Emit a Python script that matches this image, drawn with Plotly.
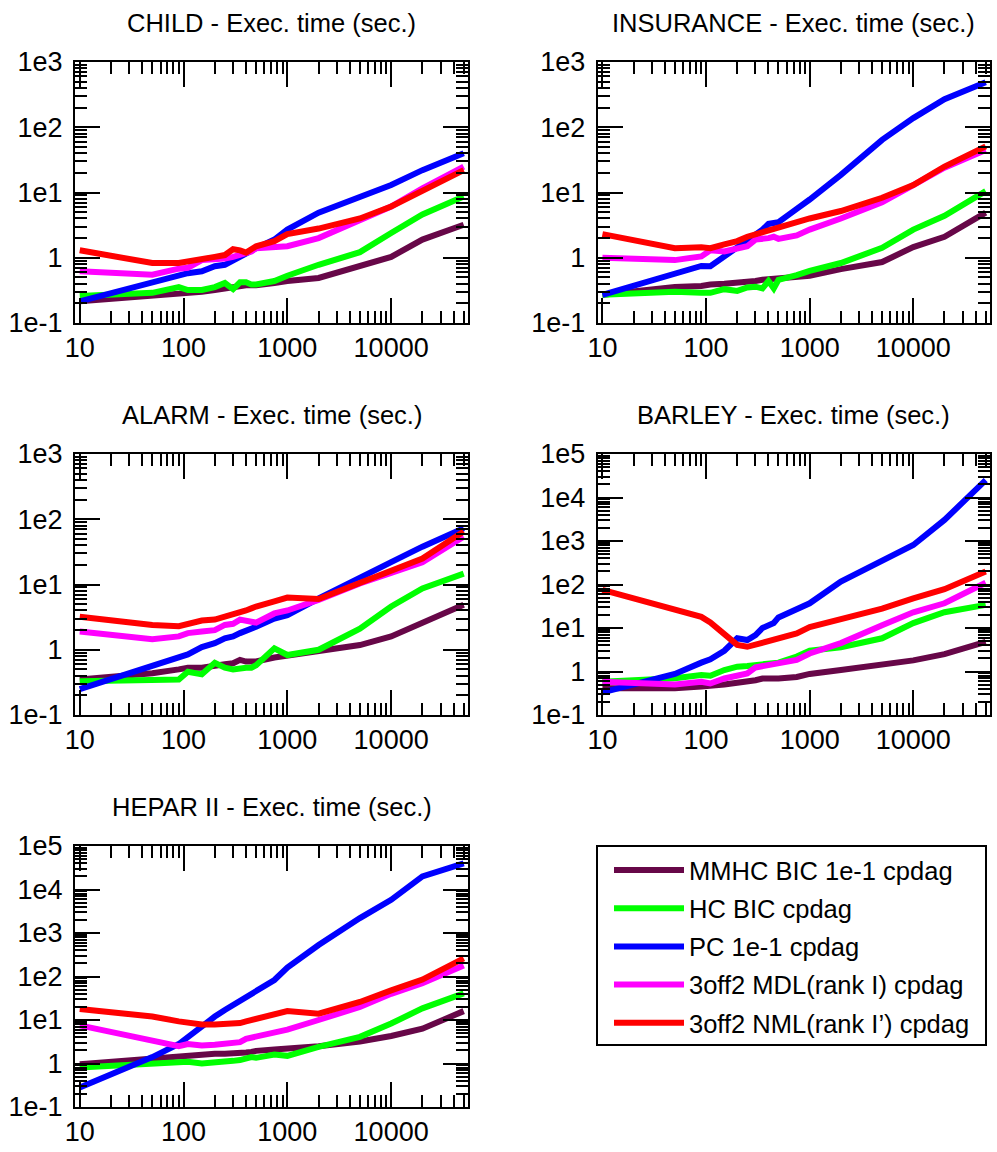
import math
import plotly.graph_objects as go

# Sample sizes (number of observations) shared by every benchmark
sample_sizes = [10, 50, 90, 110, 150, 200, 250, 300, 350, 400, 450, 500,
                750, 1000, 2000, 5000, 10000, 20000, 50000]

method_names = ["MMHC BIC 1e-1 cpdag", "HC BIC cpdag", "PC 1e-1 cpdag",
                "3off2 MDL(rank I) cpdag", "3off2 NML(rank I\u2019) cpdag"]
method_colors = ["#670748", "#00ff00", "#0000ff", "#ff00ff", "#ff0000"]

# Execution times in seconds
child_mmhc = [0.215, 0.257, 0.28, 0.29, 0.30, 0.32, 0.34, 0.36, 0.37, 0.38, 0.38, 0.38,
              0.41, 0.44, 0.49, 0.74, 1.03, 1.9, 3.2]
child_hc = [0.26, 0.29, 0.355, 0.32, 0.32, 0.355, 0.41, 0.33, 0.42, 0.42, 0.39, 0.39,
            0.44, 0.53, 0.78, 1.22, 2.4, 4.6, 8.7]
child_pc = [0.215, 0.41, 0.53, 0.58, 0.62, 0.74, 0.78, 0.92, 1.05, 1.2, 1.3, 1.4,
            1.9, 2.7, 4.9, 8.7, 13, 22, 40]
child_mdl = [0.62, 0.55, 0.68, 0.70, 0.92, 0.92, 0.97, 1.03, 1.1, 1.15, 1.25, 1.4,
             1.5, 1.5, 2.0, 3.8, 6.1, 11.6, 25]
child_nml = [1.3, 0.83, 0.83, 0.87, 0.92, 1.03, 1.1, 1.35, 1.3, 1.2, 1.35, 1.5,
             1.8, 2.3, 2.8, 4.0, 6.1, 10.5, 22]

insurance_mmhc = [0.27, 0.356, 0.37, 0.39, 0.40, 0.41, 0.42, 0.44, 0.46, 0.47, 0.47, 0.49,
                  0.53, 0.53, 0.67, 0.86, 1.46, 2.1, 4.9]
insurance_hc = [0.27, 0.30, 0.29, 0.29, 0.33, 0.31, 0.35, 0.36, 0.34, 0.44, 0.34, 0.46,
                0.54, 0.63, 0.83, 1.42, 2.7, 4.4, 10.5]
insurance_pc = [0.27, 0.57, 0.75, 0.74, 1.04, 1.4, 1.8, 2.3, 2.7, 3.3, 3.4, 3.5,
                5.6, 7.8, 18.6, 64, 138, 270, 490]
insurance_mdl = [1.0, 0.92, 1.05, 1.3, 1.25, 1.4, 1.5, 1.9, 1.9, 2.0, 2.1, 1.95,
                 2.2, 2.7, 4.0, 7.1, 13, 24, 45]
insurance_nml = [2.3, 1.4, 1.45, 1.4, 1.6, 1.8, 2.1, 2.3, 2.4, 2.6, 2.8, 2.95,
                 3.6, 4.0, 5.2, 8.3, 13, 25, 51]

alarm_mmhc = [0.35, 0.435, 0.50, 0.53, 0.53, 0.58, 0.60, 0.62, 0.70, 0.66, 0.66, 0.66,
              0.76, 0.81, 0.97, 1.18, 1.6, 2.6, 4.9]
alarm_hc = [0.33, 0.35, 0.35, 0.46, 0.42, 0.63, 0.53, 0.50, 0.53, 0.53, 0.53, 0.58,
            1.05, 0.83, 1.0, 2.1, 4.6, 8.7, 14.7]
alarm_pc = [0.25, 0.58, 0.79, 0.85, 1.1, 1.26, 1.5, 1.6, 1.8, 2.0, 2.1, 2.25,
            3.0, 3.4, 6.1, 13, 22, 38, 73]
alarm_mdl = [1.9, 1.45, 1.6, 1.8, 1.9, 2.0, 2.4, 2.5, 2.9, 2.8, 2.8, 2.6,
             3.6, 4.0, 5.8, 10.4, 15, 22, 54]
alarm_nml = [3.2, 2.4, 2.3, 2.5, 2.8, 2.9, 3.2, 3.4, 3.7, 4.0, 4.3, 4.6,
             5.5, 6.3, 6.0, 10.4, 15.7, 25, 65]

barley_mmhc = [0.41, 0.41, 0.45, 0.46, 0.50, 0.55, 0.58, 0.63, 0.69, 0.69, 0.69, 0.69,
               0.75, 0.88, 1.08, 1.41, 1.8, 2.5, 4.8]
barley_hc = [0.58, 0.70, 0.83, 0.80, 1.08, 1.29, 1.34, 1.41, 1.5, 1.5, 1.5, 1.6,
             2.2, 3.0, 3.6, 5.8, 13, 23, 34]
barley_pc = [0.33, 0.88, 1.6, 1.9, 3.0, 5.8, 5.3, 6.9, 10, 12, 13, 17.5,
             27, 37, 117, 366, 810, 3050, 25000]
barley_mdl = [0.58, 0.50, 0.58, 0.53, 0.69, 0.79, 0.9, 1.24, 1.34, 1.4, 1.5, 1.6,
              1.85, 2.6, 4.5, 11.6, 23, 37, 110]
barley_nml = [75, 26, 18, 13.5, 6.9, 4.1, 3.7, 4.2, 4.7, 5.0, 5.2, 5.8,
              7.5, 10.5, 16, 28, 48, 78, 200]

hepar_mmhc = [0.96, 1.29, 1.45, 1.5, 1.67, 1.67, 1.67, 1.67, 1.73, 1.8, 1.85, 1.95,
              2.1, 2.2, 2.5, 3.2, 4.3, 6.3, 16]
hepar_hc = [0.81, 1.0, 1.1, 1.1, 1.0, 1.03, 1.1, 1.15, 1.2, 1.29, 1.4, 1.35,
            1.6, 1.5, 2.4, 4.1, 8.3, 18.5, 41]
hepar_pc = [0.28, 1.4, 2.8, 4.1, 7.0, 12, 17, 22, 27, 33, 41, 46,
            83, 160, 530, 2200, 5800, 20000, 40000]
hepar_mdl = [7.5, 3.4, 2.5, 2.8, 2.6, 2.7, 2.8, 2.95, 3.1, 3.7, 3.9, 4.1,
             5.0, 6.0, 10, 20, 40, 70, 180]
hepar_nml = [18, 12, 9.3, 8.5, 7.9, 7.9, 8.1, 8.5, 8.5, 9.3, 10, 10.5,
             12.8, 16, 14, 26, 48, 85, 260]

x_tick_values = [10, 100, 1000, 10000]
x_tick_labels = ["10", "100", "1000", "10000"]
y_tick_labels = {-1: "1e-1", 0: "1", 1: "1e1", 2: "1e2", 3: "1e3", 4: "1e4", 5: "1e5"}

panels = [
    ("CHILD - Exec. time (sec.)", [child_mmhc, child_hc, child_pc, child_mdl, child_nml], 3),
    ("INSURANCE - Exec. time (sec.)", [insurance_mmhc, insurance_hc, insurance_pc, insurance_mdl, insurance_nml], 3),
    ("ALARM - Exec. time (sec.)", [alarm_mmhc, alarm_hc, alarm_pc, alarm_mdl, alarm_nml], 3),
    ("BARLEY - Exec. time (sec.)", [barley_mmhc, barley_hc, barley_pc, barley_mdl, barley_nml], 5),
    ("HEPAR II - Exec. time (sec.)", [hepar_mmhc, hepar_hc, hepar_pc, hepar_mdl, hepar_nml], 5),
]

W, H = 997, 1152
col_px = [(75, 468), (597.7, 990)]
row_px = [(62, 323), (454, 715), (846, 1107)]
legend_box_px = (597, 846, 986, 1045)

FONT = "Liberation Sans, Arial, Helvetica, sans-serif"


def minor_values(lo, hi):
    vals = []
    for k in range(lo, hi + 1):
        for d in range(2, 10):
            vals.append(d * 10.0 ** k)
    return vals


fig = go.Figure()
annotations = []
layout_axes = {}

for i, (title, series, ytop) in enumerate(panels):
    r, c = divmod(i, 2)
    x0, x1 = col_px[c]
    y0, y1 = row_px[r]
    xdom = [x0 / W, x1 / W]
    ydom = [1 - y1 / H, 1 - y0 / H]
    suffix = "" if i == 0 else str(i + 1)
    xa, ya = "x" + suffix, "y" + suffix

    for j, values in enumerate(series):
        fig.add_trace(go.Scatter(
            x=sample_sizes, y=values, mode="lines",
            name=method_names[j], legendgroup=method_names[j],
            showlegend=(i == 0),
            line=dict(color=method_colors[j], width=6),
            xaxis=xa, yaxis=ya,
        ))

    common = dict(
        showline=True, linewidth=2, linecolor="black", mirror="allticks",
        ticks="inside", ticklen=25, tickwidth=2, tickcolor="black",
        showgrid=False, zeroline=False, automargin=False,
        tickfont=dict(family=FONT, size=27, color="black"),
    )
    layout_axes["xaxis" + suffix] = dict(
        common, type="log", domain=xdom, anchor=ya,
        range=[math.log10(9), math.log10(55000)],
        tickmode="array", tickvals=x_tick_values, ticktext=x_tick_labels,
        minor=dict(ticks="inside", ticklen=12, tickwidth=2, tickcolor="black",
                   tickmode="array", tickvals=minor_values(0, 4), showgrid=False),
    )
    decades = list(range(-1, ytop + 1))
    layout_axes["yaxis" + suffix] = dict(
        common, type="log", domain=ydom, anchor=xa,
        range=[-1, ytop], ticklabelstandoff=5,
        tickmode="array", tickvals=[10.0 ** k for k in decades],
        ticktext=[y_tick_labels[k] for k in decades],
        minor=dict(ticks="inside", ticklen=12, tickwidth=2, tickcolor="black",
                   tickmode="array", tickvals=minor_values(-1, ytop - 1), showgrid=False),
    )
    annotations.append(dict(
        text=title, xref="paper", yref="paper",
        x=(xdom[0] + xdom[1]) / 2, y=1 - (y0 - 39.5) / H,
        xanchor="center", yanchor="middle", showarrow=False,
        font=dict(family=FONT, size=25.5, color="black"),
    ))

lx0, ly0, lx1, ly1 = legend_box_px
fig.update_layout(
    template="none",
    width=W, height=H,
    margin=dict(l=0, r=0, t=0, b=0, autoexpand=False),
    paper_bgcolor="white", plot_bgcolor="white",
    annotations=annotations,
    shapes=[dict(type="rect", xref="paper", yref="paper",
                 x0=lx0 / W, x1=lx1 / W, y0=1 - ly1 / H, y1=1 - ly0 / H,
                 line=dict(color="black", width=2), fillcolor="rgba(0,0,0,0)")],
    showlegend=True,
    legend=dict(
        x=(lx0 + 12) / W, y=1 - (ly0 + 1) / H, xanchor="left", yanchor="top",
        borderwidth=0, bgcolor="rgba(0,0,0,0)",
        font=dict(family=FONT, size=25.5, color="black"),
        tracegroupgap=2, itemwidth=70,
    ),
    **layout_axes,
)

fig.write_html("out.html")
